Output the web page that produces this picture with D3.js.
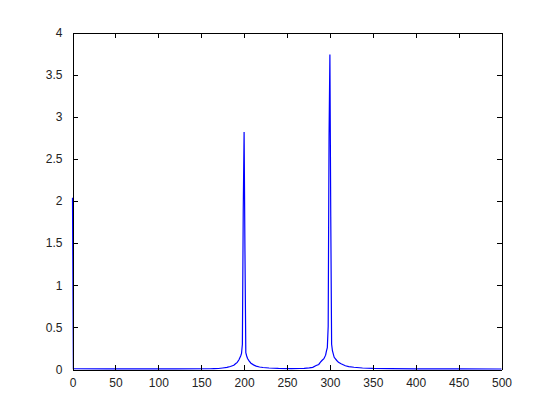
<!DOCTYPE html>
<html>
<head>
<meta charset="utf-8">
<script src="https://cdn.jsdelivr.net/npm/d3@7"></script>
<style>
  body { margin: 0; background: #fff; }
  text { font-family: "Liberation Sans", Arial, sans-serif; font-size: 12px; fill: #222; }
</style>
</head>
<body>
<div id="chart"></div>
<script>
// spectrum (frequency, magnitude)
var freq = [0, 1, 40, 80, 120, 160, 165, 170, 175, 180, 184, 188, 190, 192, 194, 196, 197, 198,
  199, 200, 201, 202, 203, 204, 206, 208, 211, 214, 218, 222, 229, 240, 255, 265, 270, 276,
  280, 284, 287, 289, 291, 293, 295, 296, 297, 298, 299, 300, 301, 302, 303, 305, 308, 310,
  313, 318, 322, 328, 338, 350, 370, 400, 450, 500];
var magnitude = [2.04, 0.01, 0.008, 0.008, 0.008, 0.009, 0.01, 0.012, 0.018, 0.025, 0.036, 0.05, 0.068, 0.085, 0.115, 0.16, 0.19, 0.30,
  1.90, 2.82, 1.40, 0.20, 0.16, 0.13, 0.10, 0.075, 0.055, 0.04, 0.03, 0.024, 0.018, 0.013, 0.01, 0.012, 0.014, 0.02,
  0.026, 0.047, 0.06, 0.087, 0.11, 0.128, 0.17, 0.22, 0.26, 0.51, 2.77, 3.74, 1.82, 0.30, 0.22, 0.145, 0.107, 0.085,
  0.068, 0.044, 0.035, 0.027, 0.018, 0.013, 0.01, 0.008, 0.007, 0.006];
var xTicks = [0, 50, 100, 150, 200, 250, 300, 350, 400, 450, 500];
var yTicks = [0, 0.5, 1, 1.5, 2, 2.5, 3, 3.5, 4];

var margin = { top: 32, left: 72, right: 53, bottom: 47 },
  width = 554 - margin.left - margin.right,
  height = 416 - margin.top - margin.bottom;

var svg = d3.select("#chart")
  .append("svg")
  .attr("width", 554)
  .attr("height", 416)
  .append("g")
  .attr("transform", "translate(" + (margin.left + 0.5) + "," + (margin.top + 0.5) + ")");

var xScale = d3.scaleLinear().domain([0, 500]).range([0, width]);
var yScale = d3.scaleLinear().domain([0, 4]).range([height, 0]);

var data = freq.map(function(f, i) { return { f: f, m: magnitude[i] }; });

var line = d3.line()
  .x(function(d) { return xScale(d.f); })
  .y(function(d) { return yScale(d.m); });

svg.append("path")
  .datum(data)
  .attr("d", line)
  .attr("fill", "none")
  .attr("stroke", "#0000ff")
  .attr("stroke-width", 1.2);

// MATLAB style box with inward ticks on all four sides
var xAxis = d3.axisBottom(xScale).tickValues(xTicks).tickSizeInner(-5).tickSizeOuter(0).tickPadding(9)
  .tickFormat(function(d) { return String(d); });
var yAxis = d3.axisLeft(yScale).tickValues(yTicks).tickSizeInner(-5).tickSizeOuter(0).tickPadding(10)
  .tickFormat(function(d) { return String(d); });

svg.append("g")
  .attr("class", "axis x-axis")
  .attr("transform", "translate(0," + height + ")")
  .call(xAxis);

svg.append("g")
  .attr("class", "axis y-axis")
  .call(yAxis);

svg.append("g")
  .attr("class", "axis")
  .call(d3.axisTop(xScale).tickValues(xTicks).tickSizeInner(-5).tickSizeOuter(0).tickFormat(""));

svg.append("g")
  .attr("class", "axis")
  .attr("transform", "translate(" + width + ",0)")
  .call(d3.axisRight(yScale).tickValues(yTicks).tickSizeInner(-5).tickSizeOuter(0).tickFormat(""));

svg.selectAll(".axis path, .axis line")
  .attr("stroke", "#000")
  .attr("shape-rendering", "crispEdges");
svg.selectAll(".axis text")
  .attr("font-family", "'Liberation Sans', Arial, sans-serif")
  .attr("font-size", 12)
  .attr("fill", "#222");
</script>
</body>
</html>
